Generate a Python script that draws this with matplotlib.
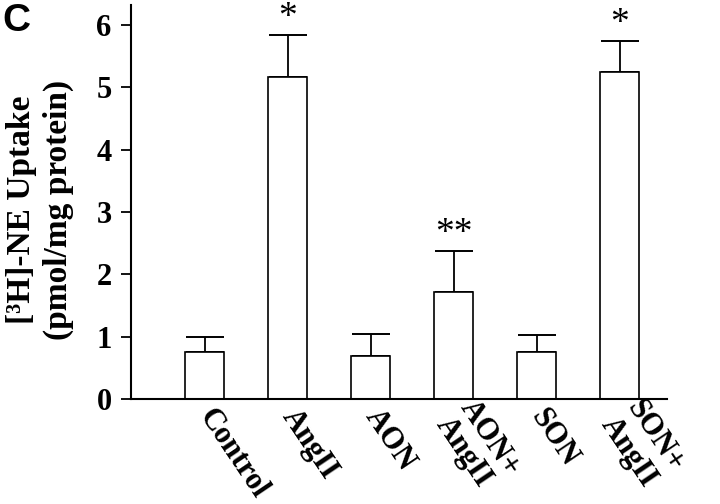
import matplotlib
matplotlib.use("Agg")
import matplotlib.pyplot as plt
import numpy as np

categories = ["Control", "AngII", "AON", "AON+\nAngII", "SON", "SON+\nAngII"]
means = [0.75, 5.17, 0.69, 1.72, 0.75, 5.25]
errors = [0.25, 0.67, 0.36, 0.65, 0.28, 0.49]
marks = ["", "*", "", "**", "", "*"]
yticks = [0, 1, 2, 3, 4, 5, 6]

serif = ["Liberation Serif", "DejaVu Serif"]

fig = plt.figure(figsize=(7.2, 5.04), dpi=100)
ax = fig.add_axes([131/720, 1-399/504, (667-131)/720, (399-5)/504])

x = np.arange(len(categories))
ax.bar(x, means, width=0.47, color="white", edgecolor="black", linewidth=1.2, zorder=2)
ax.errorbar(x, means, yerr=[np.zeros(len(means)), errors], fmt="none",
            ecolor="black", elinewidth=1.3, capsize=14, capthick=1.4, zorder=1)

for xi, m, e, s in zip(x, means, errors, marks):
    if s:
        ax.annotate(s, (xi, m + e), xytext=(0, 0), textcoords="offset points",
                    ha="center", va="bottom", fontsize=27, family=serif)

ax.set_xlim(-0.89, 5.57)
ax.set_ylim(0, 6.32)
ax.set_yticks(yticks)
ax.set_yticklabels([str(t) for t in yticks], fontsize=22, fontweight="bold", family=serif)
ax.set_xticks(x)
ax.set_xticklabels(categories, fontsize=22, fontweight="bold", family=serif,
                   rotation=-56, rotation_mode="anchor", ha="left", va="center",
                   linespacing=1.05)
ax.tick_params(axis="x", length=0, pad=9)
ax.tick_params(axis="y", length=7, width=1.3, direction="out", pad=7)

for side in ["top", "right"]:
    ax.spines[side].set_visible(False)
for side in ["left", "bottom"]:
    ax.spines[side].set_linewidth(1.5)

fig.text(40/720, 1-210/504, "[³H]-NE Uptake\n(pmol/mg protein)", rotation=90,
         ha="center", va="center", fontsize=24, fontweight="bold", family=serif,
         linespacing=1.25, multialignment="center")
fig.text(2/720, 1-3/504, "C", ha="left", va="top", fontsize=28, fontweight="bold",
         family=["Liberation Sans", "DejaVu Sans"])

fig.savefig("out.png", dpi=100)
